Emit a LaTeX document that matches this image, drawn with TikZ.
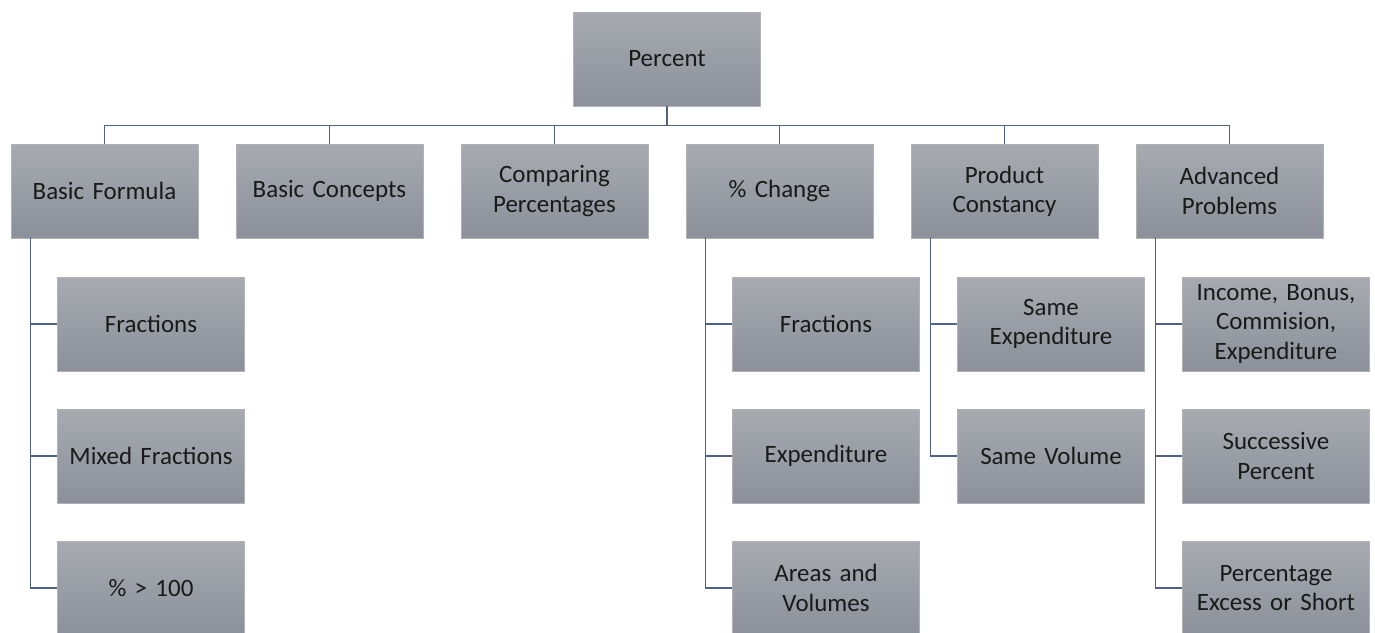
\documentclass[tikz,border=0pt]{standalone}
\usepackage{fontspec}
\setmainfont{Carlito}
\usetikzlibrary{positioning}
\definecolor{boxtop}{HTML}{A7AAB0}
\definecolor{boxbot}{HTML}{8C909A}
\definecolor{linkcol}{HTML}{52627A}
\begin{document}
\begin{tikzpicture}[
	x=0.02cm, y=-0.02cm,
	every node/.style={font=\fontsize{14.2}{16.6}\selectfont, text=black!90},
	topic/.style={rectangle, draw=gray!60, line width=0.4pt, top color=boxtop, bottom color=boxbot, minimum width=3.74cm, minimum height=1.88cm, text width=3.6cm, align=center, inner sep=0pt},
	link/.style={draw=linkcol, line width=0.9pt}
	]
	
	\useasboundingbox (0,0) rectangle (1375,632);
	
	% === ROOT ===
	\node[topic] (percent) at (667, 59) {Percent};
	
	% === FIRST LEVEL ===
	\foreach \x/\name/\labeltext in {104.5/formula/{Basic Formula},
		329.5/concepts/{Basic Concepts},
		554.5/comparing/{Comparing\\Percentages},
		779.5/change/{\% Change},
		1004.5/constancy/{Product\\Constancy},
		1229.5/advanced/{Advanced\\Problems}} {
		\node[topic] (\name) at (\x, 191) {\labeltext};
		\draw[link] (percent.south) -- ++(0,19) -| (\name.north);
	}
	
	% === SECOND LEVEL ===
	\foreach \parent/\x/\list in {formula/151/{Fractions,Mixed Fractions,\% > 100},
		change/826/{Fractions,Expenditure,Areas and\\Volumes},
		constancy/1051/{Same\\Expenditure,Same Volume},
		advanced/1276/{Income{,} Bonus{,}\\Commision{,}\\Expenditure,Successive\\Percent,Percentage\\Excess or Short}} {
		\foreach \labeltext [count=\i] in \list {
			\node[topic] (\parent\i) at (\x, 192+132*\i) {\labeltext};
			\draw[link] ([xshift=20*0.02cm]\parent.south west) |- (\parent\i.west);
		}
	}
	
\end{tikzpicture}
\end{document}
